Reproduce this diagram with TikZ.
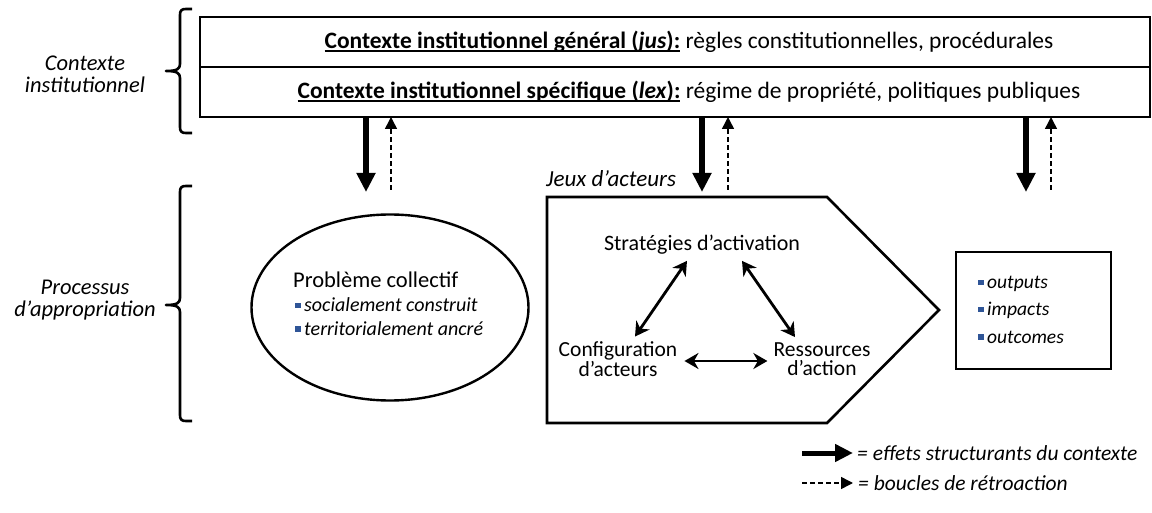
\documentclass[tikz,border=0pt]{standalone}
\usepackage{fontspec}
\setmainfont{Carlito}
\usetikzlibrary{arrows.meta,shapes.geometric,calc}
\definecolor{bulletblue}{RGB}{47,85,151}
% small square bullet used in the lists
\newcommand\sqbullet{\textcolor{bulletblue}{\rule[3.5pt]{5.5pt}{5.5pt}}\hspace{3.5pt}}
% heavy underline for the row headings
\newcommand\thickul[1]{\setbox0\hbox{#1}\rlap{\rule[-3.6pt]{\wd0}{1.8pt}}\box0\relax}

\begin{document}
\begin{tikzpicture}[x=1pt,y=-1pt,
  frame/.style={draw, line width=2pt, inner sep=0pt, outer sep=0pt},
  bracket/.style={line width=2.6pt, line cap=butt, line join=round},
  effect/.style={line width=6pt, -{Triangle[length=19pt,width=18pt]}},
  feedback/.style={line width=1.5pt, dash pattern=on 5pt off 3pt, -{Triangle[length=12pt,width=12pt]}},
  link/.style={line width=2.8pt, {Stealth[length=14pt,width=16pt,inset=4.5pt]}-{Stealth[length=14pt,width=16pt,inset=4.5pt]}},
  txt/.style={font=\fontsize{21.5}{19.5}\selectfont, inner sep=0pt, align=center},
  rowtxt/.style={font=\fontsize{23.5}{26}\selectfont, inner sep=0pt},
  itxt/.style={font=\fontsize{21.5}{24}\selectfont\itshape, inner sep=0pt},
  sidelabel/.style={font=\fontsize{22.5}{22}\selectfont\itshape, inner sep=0pt, align=center},
  listtxt/.style={font=\fontsize{20}{24}\selectfont\itshape, inner sep=0pt, anchor=base west},
]
\useasboundingbox (0,0) rectangle (1152,513);

% institutional context rows
\node[frame, minimum width=950pt, minimum height=50pt] (jusrow) at (675,42) {};
\node[frame, minimum width=950pt, minimum height=50pt] (lexrow) at (675,92) {};
\node[rowtxt] (justext) at (689,42) {\thickul{\textbf{Contexte institutionnel général (\textit{jus}):}} règles constitutionnelles, procédurales};
\node[rowtxt] (lextext) at (689,92) {\thickul{\textbf{Contexte institutionnel spécifique (\textit{lex}):}} régime de propriété, politiques publiques};

% side brackets and their labels
\draw[bracket] (192,9) -- (186,9) .. controls (181.5,9) and (180,10.5) .. (180,15) -- (180,64)
  .. controls (180,69) and (177,71) .. (166,71)
  .. controls (177,71) and (180,73) .. (180,78) -- (180,127)
  .. controls (180,131.5) and (181.5,133) .. (186,133) -- (192,133);
\node[sidelabel] (ctxlabel) at (85,74) {Contexte\\institutionnel};

\draw[bracket] (192,186) -- (186,186) .. controls (181.5,186) and (180,187.5) .. (180,192) -- (180,298)
  .. controls (180,303) and (177,305) .. (166,305)
  .. controls (177,305) and (180,307) .. (180,312) -- (180,415)
  .. controls (180,419.5) and (181.5,421) .. (186,421) -- (192,421);
\node[sidelabel] (proclabel) at (85,300) {Processus\\d’appropriation};

% collective problem
\node[draw, ellipse, line width=2.4pt, minimum width=277pt, minimum height=186pt] (prob) at (390,307.5) {};
\node[font=\fontsize{22.5}{26}\selectfont, inner sep=0pt, anchor=base west] (probtitle) at (293,288) {Problème collectif};
\node[listtxt] (probitem1) at (295,312) {\sqbullet socialement construit};
\node[listtxt] (probitem2) at (295,335) {\sqbullet territorialement ancré};

% actors' games
\draw[line width=2.6pt, line join=miter] (547,197) coordinate (pa) -- (827,197) coordinate (pb)
  -- (939,310) coordinate (pc) -- (827,423) coordinate (pd) -- (547,423) coordinate (pe) -- cycle;
\node[itxt, font=\fontsize{23}{24}\selectfont\itshape, anchor=west] (jeux) at (546,179) {Jeux d’acteurs};
\node[txt, font=\fontsize{22}{20}\selectfont] (strat) at (702,245) {Stratégies d’activation};
\node[txt] (config) at (618,359) {Configuration\\d’acteurs};
\node[txt] (ress) at (822,359) {Ressources\\d’action};
\draw[link] ($(strat.south)+(-15,6)$) -- ($(config.north)+(17,-5)$);
\draw[link] ($(strat.south)+(40,6)$) -- ($(ress.north)+(-27,-5)$);
\draw[link] ($(config.east)+(7,2)$) -- ($(ress.west)+(-6,2)$);

% results
\node[frame, minimum width=155pt, minimum height=117pt] (outbox) at (1033.5,310.5) {};
\node[listtxt, font=\fontsize{19.5}{24}\selectfont\itshape] (out1) at (978,289) {\sqbullet outputs};
\node[listtxt, font=\fontsize{19.5}{24}\selectfont\itshape] (out2) at (978,316) {\sqbullet impacts};
\node[listtxt, font=\fontsize{19.5}{24}\selectfont\itshape] (out3) at (978,343) {\sqbullet outcomes};

% structuring effects and feedback loops
\coordinate (e1) at (366,192);
\coordinate (f1) at (391,190);
\coordinate (e2) at (702,192);
\coordinate (f2) at (728,190);
\coordinate (e3) at (1026,192);
\coordinate (f3) at (1051,190);
\draw[effect] (lexrow.south -| e1) -- (e1);
\draw[feedback] (f1) -- (lexrow.south -| f1);
\draw[effect] (lexrow.south -| e2) -- (e2);
\draw[feedback] (f2) -- (lexrow.south -| f2);
\draw[effect] (lexrow.south -| e3) -- (e3);
\draw[feedback] (f3) -- (lexrow.south -| f3);

% legend
\node[itxt, anchor=west] (legeffect) at (857,453) {= effets structurants du contexte};
\node[itxt, anchor=west] (legfeed) at (858,483) {= boucles de rétroaction};
\coordinate (le) at (802,453);
\coordinate (lf) at (802,483);
\draw[line width=5pt, -{Triangle[length=18pt,width=17pt]}] (le) -- ($(legeffect.west)+(-4,0)$);
\draw[feedback] (lf) -- ($(legfeed.west)+(-5,0)$);
\end{tikzpicture}
\end{document}
